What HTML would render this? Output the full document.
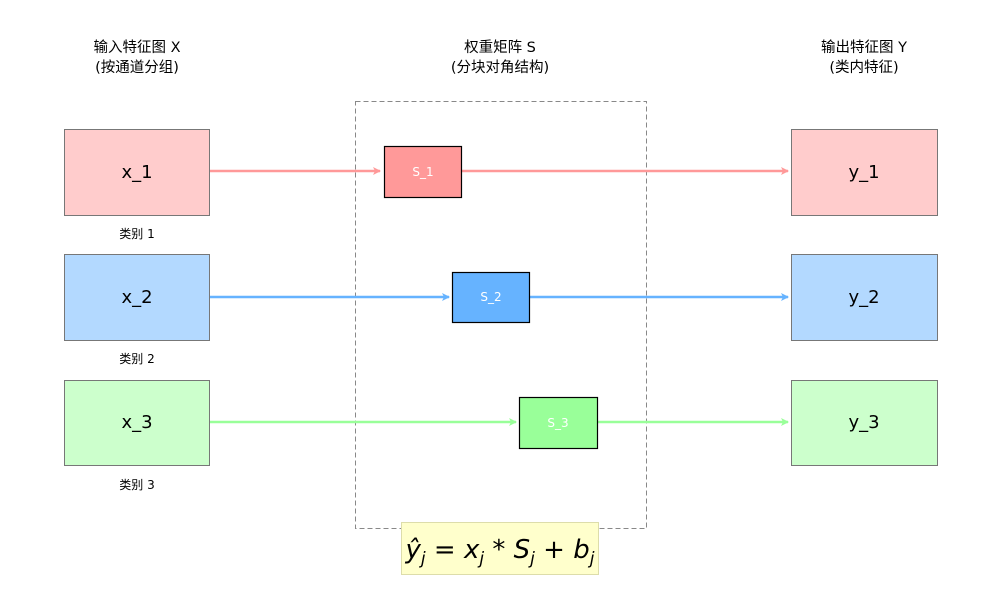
<!DOCTYPE html>
<html><head><meta charset="utf-8"><style>
body{margin:0;background:#fff;}
svg text{font-family:"DejaVu Sans","Noto Sans CJK SC",sans-serif;}
</style></head><body>
<svg width="1000" height="600" xmlns="http://www.w3.org/2000/svg">
<defs>
<marker id="ar" markerWidth="8" markerHeight="8" refX="7" refY="4" orient="auto" markerUnits="userSpaceOnUse"><path d="M0,0 L8,4 L0,8 L2,4 z" fill="#ff9999"/></marker>
<marker id="ab" markerWidth="8" markerHeight="8" refX="7" refY="4" orient="auto" markerUnits="userSpaceOnUse"><path d="M0,0 L8,4 L0,8 L2,4 z" fill="#66b3ff"/></marker>
<marker id="ag" markerWidth="8" markerHeight="8" refX="7" refY="4" orient="auto" markerUnits="userSpaceOnUse"><path d="M0,0 L8,4 L0,8 L2,4 z" fill="#99ff99"/></marker>
</defs>
<g font-size="14.5" text-anchor="middle" fill="#000">
<text x="137" y="52">输入特征图 X</text><text x="137" y="72">(按通道分组)</text>
<text x="500" y="52">权重矩阵 S</text><text x="500" y="72">(分块对角结构)</text>
<text x="864" y="52">输出特征图 Y</text><text x="864" y="72">(类内特征)</text>
</g>
<rect x="355.5" y="101.5" width="291" height="427" fill="none" stroke="#888" stroke-dasharray="5,3"/>
<g stroke="#777" stroke-width="1">
<rect x="64.5" y="129.5" width="145" height="86" fill="#ffcccc"/>
<rect x="64.5" y="254.5" width="145" height="86" fill="#b3d9ff"/>
<rect x="64.5" y="380.5" width="145" height="85" fill="#ccffcc"/>
<rect x="791.5" y="129.5" width="146" height="86" fill="#ffcccc"/>
<rect x="791.5" y="254.5" width="146" height="86" fill="#b3d9ff"/>
<rect x="791.5" y="380.5" width="146" height="85" fill="#ccffcc"/>
</g>
<g font-size="18" text-anchor="middle">
<text x="137" y="178">x_1</text><text x="137" y="303">x_2</text><text x="137" y="428">x_3</text>
<text x="864" y="178">y_1</text><text x="864" y="303">y_2</text><text x="864" y="428">y_3</text>
</g>
<g font-size="12" text-anchor="middle">
<text x="137" y="238">类别 1</text><text x="137" y="363">类别 2</text><text x="137" y="489">类别 3</text>
</g>
<g stroke-width="2.5" fill="none">
<line x1="210" y1="171" x2="380" y2="171" stroke="#ff9999" marker-end="url(#ar)"/>
<line x1="462" y1="171" x2="788" y2="171" stroke="#ff9999" marker-end="url(#ar)"/>
<line x1="210" y1="297" x2="449" y2="297" stroke="#66b3ff" marker-end="url(#ab)"/>
<line x1="530" y1="297" x2="788" y2="297" stroke="#66b3ff" marker-end="url(#ab)"/>
<line x1="210" y1="422" x2="516" y2="422" stroke="#99ff99" marker-end="url(#ag)"/>
<line x1="598" y1="422" x2="788" y2="422" stroke="#99ff99" marker-end="url(#ag)"/>
</g>
<g stroke="#000" stroke-width="1.2">
<rect x="384.5" y="146.5" width="77" height="51" fill="#ff9999"/>
<rect x="452.5" y="272.5" width="77" height="50" fill="#66b3ff"/>
<rect x="519.5" y="397.5" width="78" height="51" fill="#99ff99"/>
</g>
<g font-size="12" text-anchor="middle" fill="#fff">
<text x="423" y="176">S_1</text><text x="491" y="301">S_2</text><text x="558" y="427">S_3</text>
</g>
<rect x="401.5" y="522.5" width="197" height="52" fill="#ffffcc" stroke="#ddddaa"/>
<text x="500" y="558" font-size="26" text-anchor="middle" font-style="italic" font-family="DejaVu Sans,sans-serif">ŷ<tspan font-size="17" dy="6">j</tspan><tspan dy="-6" font-style="normal"> = </tspan>x<tspan font-size="17" dy="6">j</tspan><tspan dy="-6" font-style="normal"> * </tspan>S<tspan font-size="17" dy="6">j</tspan><tspan dy="-6" font-style="normal"> + </tspan>b<tspan font-size="17" dy="6">j</tspan></text>
</svg>
</body></html>
